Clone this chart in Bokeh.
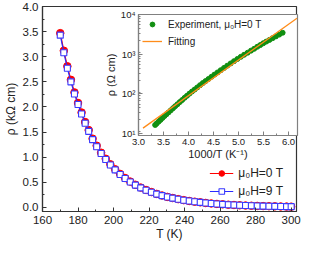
from bokeh.plotting import figure
from bokeh.layouts import column
from bokeh.models import (Range1d, SingleIntervalTicker, LogTicker, PrintfTickFormatter,
                          Legend, LegendItem)
from bokeh.embed import file_html
from bokeh.resources import INLINE

# ---------------- data ----------------
T_K = [170, 172, 174, 176, 178, 180, 182, 184, 186, 188.2, 190.5, 193, 195.6, 198.2,
       200.9, 203.7, 206.5, 209.4, 212.3, 215.3, 218.3, 221.3, 224.3, 227.3, 230.3,
       233.3, 236.4, 239.5, 242.6, 245.7, 248.8, 251.9, 255.0, 258.2, 261.4, 264.6,
       267.8, 271.0, 274.3, 277.6, 280.9, 284.2, 287.5, 290.8, 294.1, 297.4, 300]
rho_0T = [3.47, 3.12, 2.81, 2.54, 2.29, 2.08, 1.89, 1.70, 1.54, 1.37, 1.23, 1.09, 0.97,
          0.86, 0.76, 0.667, 0.586, 0.515, 0.452, 0.396, 0.348, 0.307, 0.270, 0.238,
          0.211, 0.188, 0.166, 0.146, 0.129, 0.115, 0.102, 0.090, 0.080, 0.0705, 0.0624,
          0.0552, 0.0491, 0.0437, 0.0388, 0.0345, 0.0309, 0.0277, 0.0248, 0.0222,
          0.0200, 0.0180, 0.0166]
rho_9T = [3.43, 3.08, 2.77, 2.50, 2.26, 2.05, 1.86, 1.675, 1.515, 1.35, 1.21, 1.073,
          0.955, 0.846, 0.748, 0.657, 0.577, 0.507, 0.445, 0.390, 0.343, 0.303, 0.266,
          0.235, 0.209, 0.186, 0.164, 0.145, 0.128, 0.114, 0.101, 0.0895, 0.0795, 0.0701,
          0.062, 0.0549, 0.0488, 0.0435, 0.0386, 0.0343, 0.0307, 0.0275, 0.0246, 0.0221,
          0.0199, 0.0179, 0.0165]
fit_inv_T = [3.09, 6.17]
fit_rho = [13.8, 8035]
log_tick_labels = {10: "10¹", 100: "10²", 1000: "10³", 10000: "10⁴"}
label_0T = "μ₀H=0 T"
label_9T = "μ₀H=9 T"
label_exp = "Experiment, μ₀H=0 T"
label_fit = "Fitting"

# inset quantities derived from the 0 T curve
inv_T = [1000.0 / t for t in T_K]
rho_0T_ohm = [r * 1000.0 for r in rho_0T]

FONT = "Liberation Sans"
TXT = "#222222"


def style_axis(ax, tick_fs, label_fs, color, standoff=3, lstandoff=0):
    ax.axis_line_color = color
    ax.axis_line_width = 1.2
    ax.major_tick_line_color = color
    ax.minor_tick_line_color = color
    ax.major_tick_in = 4
    ax.major_tick_out = 0
    ax.minor_tick_in = 2
    ax.minor_tick_out = 0
    ax.major_label_text_font = FONT
    ax.major_label_text_font_size = tick_fs
    ax.major_label_text_color = TXT
    ax.major_label_standoff = standoff
    ax.axis_label_text_font = FONT
    ax.axis_label_text_font_size = label_fs
    ax.axis_label_text_font_style = "normal"
    ax.axis_label_text_color = TXT
    ax.axis_label_standoff = lstandoff


# ---------------- main plot ----------------
main = figure(width=302, height=243, x_range=Range1d(160, 303), y_range=Range1d(-0.08, 4.0),
              output_backend="svg", toolbar_location=None,
              min_border_top=6, min_border_right=2, min_border_left=40, min_border_bottom=30)
main.grid.visible = False
main.outline_line_color = "#333333"
main.outline_line_width = 1.2
main.xaxis.ticker = SingleIntervalTicker(interval=20, num_minor_ticks=2)
main.yaxis.ticker = SingleIntervalTicker(interval=0.5, num_minor_ticks=2)
main.yaxis.formatter = PrintfTickFormatter(format="%.1f")
main.xaxis.axis_label = "T (K)"
main.yaxis.axis_label = "ρ (kΩ cm)"
style_axis(main.xaxis[0], "11.5px", "12px", "#333333", standoff=4)
style_axis(main.yaxis[0], "11.5px", "12px", "#333333", standoff=4, lstandoff=2)

rl = main.line(T_K, rho_0T, line_color="#ff0000", line_width=1.2)
rc = main.scatter(T_K, rho_0T, marker="circle", size=7.5, fill_color="#ff0000", line_color="#ff0000")
bl = main.line(T_K, rho_9T, line_color="#2b2bff", line_width=1.2)
bs = main.scatter(T_K, rho_9T, marker="square", size=6, fill_color="white", line_color="#3a3aff", line_width=1.1)

leg = Legend(items=[LegendItem(label=label_0T, renderers=[rl, rc]),
                    LegendItem(label=label_9T, renderers=[bl, bs])],
             location="bottom_right", margin=11, padding=2, spacing=4,
             glyph_width=24, glyph_height=14, label_height=14, label_standoff=5,
             label_text_font=FONT, label_text_font_size="12px", label_text_color=TXT,
             border_line_alpha=0, background_fill_alpha=0)
main.add_layout(leg)

# ---------------- inset ----------------
inset = figure(frame_width=159, frame_height=121, x_range=Range1d(3.0, 6.18),
               y_range=Range1d(9, 10000), y_axis_type="log",
               output_backend="svg", toolbar_location=None,
               min_border_top=6, min_border_right=6, min_border_left=40, min_border_bottom=32)
inset.grid.visible = False
inset.outline_line_color = "#808080"
inset.outline_line_width = 1.2
inset.border_fill_alpha = 0
inset.background_fill_color = "white"
inset.xaxis.ticker = SingleIntervalTicker(interval=0.5, num_minor_ticks=2)
inset.xaxis.formatter = PrintfTickFormatter(format="%.1f")
inset.yaxis.ticker = LogTicker(num_minor_ticks=9)
inset.yaxis.major_label_overrides = log_tick_labels
inset.xaxis.axis_label = "1000/T (K⁻¹)"
inset.yaxis.axis_label = "ρ (Ω cm)"
style_axis(inset.xaxis[0], "9.5px", "11px", "#808080", standoff=3)
style_axis(inset.yaxis[0], "9.5px", "11px", "#808080", standoff=3, lstandoff=1)

gp = inset.scatter(inv_T, rho_0T_ohm, marker="circle", size=5, fill_color="#118f11", line_color="#118f11")
fl = inset.line(fit_inv_T, fit_rho, line_color="#ff8c1a", line_width=1.3)

ileg = Legend(items=[LegendItem(label=label_exp, renderers=[gp]),
                     LegendItem(label=label_fit, renderers=[fl])],
              location="top_left", margin=2, padding=2, spacing=5,
              glyph_width=20, glyph_height=12, label_height=12, label_standoff=6,
              label_text_font=FONT, label_text_font_size="10px", label_text_color=TXT,
              border_line_alpha=0, background_fill_alpha=0)
inset.add_layout(ileg)

inset.styles = {"position": "absolute", "left": "96px", "top": "8px"}
layout = column(main, inset)
layout.styles = {"position": "relative"}

open("out.html", "w").write(file_html(layout, INLINE))
